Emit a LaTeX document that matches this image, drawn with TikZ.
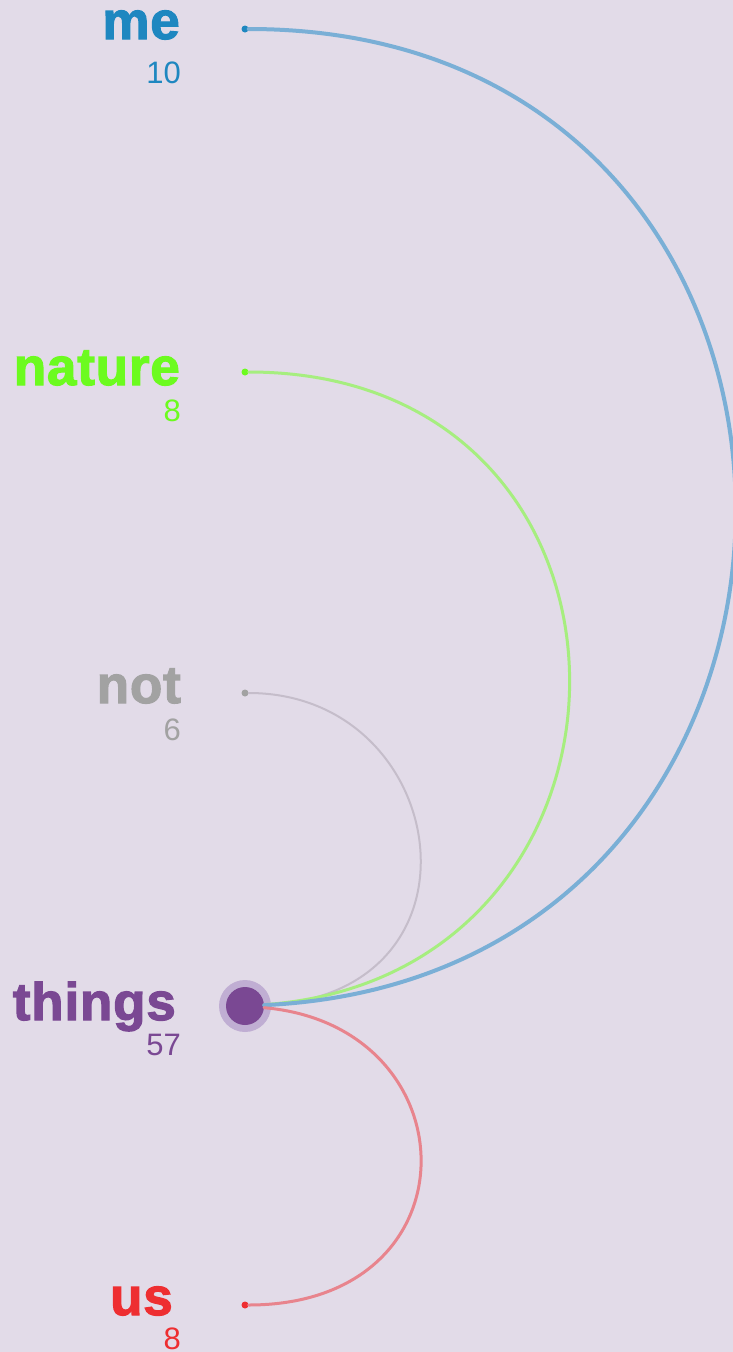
\documentclass[tikz,border=0pt]{standalone}
\usepackage{fontspec}
\setmainfont{Liberation Sans}
\newfontfamily\heavyfont[FakeBold=2.2, LetterSpace=1.5]{Liberation Sans Bold}

\definecolor{bgcol}{HTML}{E2DBE8}
\definecolor{meblue}{HTML}{1E87C0}
\definecolor{mearc}{HTML}{7AAFD6}
\definecolor{natgreen}{HTML}{6CFB1F}
\definecolor{natarc}{HTML}{A6EE7F}
\definecolor{notgrey}{HTML}{A2A2A2}
\definecolor{notarc}{HTML}{C5BDCA}
\definecolor{thpurple}{HTML}{7A4893}
\definecolor{thhalo}{HTML}{C0AED3}
\definecolor{usred}{HTML}{EE2E31}
\definecolor{usarc}{HTML}{E8848D}

\tikzset{
  worddot/.style={circle, fill=#1, inner sep=0pt, minimum size=7pt},
  wordlabel/.style={anchor=base east, inner sep=0pt, text=#1,
    font=\heavyfont\fontsize{53}{53}\selectfont},
  wordcount/.style={anchor=base east, inner sep=0pt, text=#1,
    font=\fontsize{31}{31}\selectfont},
  link/.style={draw=#1, line cap=round}
}

\begin{document}
\begin{tikzpicture}[x=1pt, y=-1pt]
% canvas in pixel units, y running down the page
\path[use as bounding box, fill=bgcol] (0,0) rectangle (733,1352);

% word dots, all on one vertical line
\node[worddot=meblue]   (me)     at (245,29)   {};
\node[worddot=natgreen] (nature) at (245,372)  {};
\node[worddot=notgrey]  (not)    at (245,693)  {};
\node[circle, fill=thhalo, inner sep=0pt, minimum size=52pt] (halo) at (245,1006) {};
\node[circle, fill=thpurple, inner sep=0pt, minimum size=38pt] (things) at (halo) {};
\node[worddot=usred]    (us)     at (245,1305) {};

% arcs into the hub word
\draw[link=notarc, line width=2pt] (not) .. controls +(207,0) and +(252,-10) .. (things);
\draw[link=natarc, line width=3pt] (nature) .. controls +(430,0) and +(428,-30) .. (things);
\draw[link=mearc, line width=4pt] (me) .. controls +(651,0) and +(650,-30) .. (things);
\draw[link=usarc, line width=3pt] (things) .. controls +(228,20) and +(234,0) .. (us);

% labels and counts
\node[wordlabel=meblue]   (melabel)  at (180,39)   {me};
\node[wordcount=meblue]   (mecount)  at (181,83)   {10};
\node[wordlabel=natgreen] (natlabel) at (180,385)  {nature};
\node[wordcount=natgreen] (natcount) at (181,421)  {8};
\node[wordlabel=notgrey]  (notlabel) at (181,703)  {not};
\node[wordcount=notgrey]  (notcount) at (181,740)  {6};
\node[wordlabel=thpurple] (thlabel)  at (176,1020) {things};
\node[wordcount=thpurple] (thcount)  at (181,1055) {57};
\node[wordlabel=usred]    (uslabel)  at (173,1315) {us};
\node[wordcount=usred]    (uscount)  at (181,1349) {8};
\end{tikzpicture}
\end{document}
